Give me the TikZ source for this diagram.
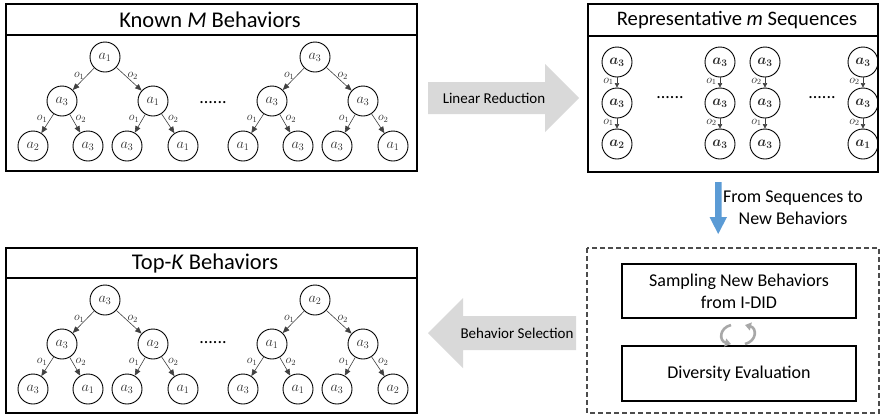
\documentclass[tikz,border=0pt]{standalone}
\usepackage{fontspec}
\setmainfont{Carlito}
\usetikzlibrary{arrows.meta}
\definecolor{edgec}{HTML}{404040}
\definecolor{blockgray}{HTML}{D9D9D9}
\definecolor{bluearrow}{HTML}{5B9BD5}
\definecolor{cycgray}{HTML}{A8A8A8}
\definecolor{labc}{HTML}{303030}
\tikzset{
  box/.style={draw=black, line width=1.3pt},
  dbox/.style={draw=black!70, line width=1.3pt, dash pattern=on 5pt off 3pt},
  ibox/.style={draw=black, line width=1.2pt},
  st/.style={circle, draw=black, line width=0.9pt, minimum size=30pt, inner sep=0pt,
    font=\fontsize{14}{16}\selectfont, text=labc},
  sq/.style={st, font=\fontsize{14.5}{16}\selectfont\boldmath},
  ed/.style={draw=edgec, line width=0.6pt, -{Triangle[length=6.5pt,width=5.5pt]}},
  sed/.style={draw=edgec, line width=0.6pt, -{Triangle[length=4.5pt,width=4.5pt]}},
  ol/.style={font=\fontsize{12}{14}\selectfont, text=labc, inner sep=1pt},
  sol/.style={font=\fontsize{11.5}{13}\selectfont, text=labc, inner sep=1pt},
  ttl/.style={font=\fontsize{22.5}{26}\selectfont},
  ttlr/.style={font=\fontsize{20.6}{24}\selectfont},
  txt/.style={font=\fontsize{18}{22}\selectfont, align=center},
  atxt/.style={font=\fontsize{15}{18}\selectfont},
  dots/.style={font=\fontsize{18}{20}\selectfont},
  cyc/.style={draw=cycgray, line width=2.6pt, -{Triangle[length=6pt,width=8pt]}},
}
\newcommand\mytree[7]{%
  \node[st] (r)  at (0,0)    {$a_{#1}$};
  \node[st] (L)  at (-43,44) {$a_{#2}$};
  \node[st] (R)  at (48,44)  {$a_{#3}$};
  \node[st] (LL) at (-72,89) {$a_{#4}$};
  \node[st] (LR) at (-17,89) {$a_{#5}$};
  \node[st] (RL) at (22,89)  {$a_{#6}$};
  \node[st] (RR) at (78,89)  {$a_{#7}$};
  \draw[ed] (r) -- node[ol,pos=0.35,left=1pt]{$o_1$} (L);
  \draw[ed] (r) -- node[ol,pos=0.35,right=1pt]{$o_2$} (R);
  \draw[ed] (L) -- node[ol,pos=0.25,left=2pt]{$o_1$} (LL);
  \draw[ed] (L) -- node[ol,pos=0.25,right=2pt]{$o_2$} (LR);
  \draw[ed] (R) -- node[ol,pos=0.25,left=2pt]{$o_1$} (RL);
  \draw[ed] (R) -- node[ol,pos=0.25,right=2pt]{$o_2$} (RR);
}
\newcommand\myseq[5]{%
  \node[sq] (s1) at (0,0)  {$a_{#1}$};
  \node[sq] (s2) at (0,41) {$a_{#3}$};
  \node[sq] (s3) at (0,82) {$a_{#5}$};
  \draw[sed] (s1) -- node[sol,pos=0.4,left=2pt]{$o_{#2}$} (s2);
  \draw[sed] (s2) -- node[sol,pos=0.4,left=2pt]{$o_{#4}$} (s3);
}
\begin{document}
\begin{tikzpicture}[x=1pt,y=-1pt]
\useasboundingbox (0,0) rectangle (882,416);

% ---- top-left box
\draw[box] (6,4) rectangle (417,171);
\draw[box] (6,35) -- (417,35);
\node[ttl] (t1) at (210,19.5) {Known \textit{M} Behaviors};
\begin{scope}[shift={(105,57)}, name prefix=ta-]
  \mytree{1}{3}{1}{2}{3}{3}{1}
\end{scope}
\begin{scope}[shift={(315,57)}, name prefix=tb-]
  \mytree{3}{3}{3}{1}{3}{3}{1}
\end{scope}
\node[dots] (d1) at (213,103) {......};

% ---- bottom-left box
\draw[box] (6,248) rectangle (417,413);
\draw[box] (6,278) -- (417,278);
\node[ttl] (t2) at (205,263) {Top-\textit{K} Behaviors};
\begin{scope}[shift={(105,300)}, name prefix=ba-]
  \mytree{3}{3}{2}{3}{1}{3}{1}
\end{scope}
\begin{scope}[shift={(315,300)}, name prefix=bb-]
  \mytree{2}{1}{3}{3}{1}{3}{2}
\end{scope}
\node[dots] (d2) at (213,343) {......};

% ---- top-right box
\draw[box] (588,4) rectangle (878,172);
\draw[box] (588,36) -- (878,36);
\node[ttlr] (t3) at (737,20) {Representative \textit{m} Sequences};
\begin{scope}[shift={(617,62)}, name prefix=sa-]
  \myseq{3}{1}{3}{1}{2}
\end{scope}
\begin{scope}[shift={(720,62)}, name prefix=sb-]
  \myseq{3}{1}{3}{2}{3}
\end{scope}
\begin{scope}[shift={(765,62)}, name prefix=sc-]
  \myseq{3}{2}{3}{1}{3}
\end{scope}
\begin{scope}[shift={(863,62)}, name prefix=sd-]
  \myseq{3}{2}{3}{2}{1}
\end{scope}
\node[dots] (d3) at (670,98) {......};
\node[dots] (d4) at (822,98) {......};

% ---- block arrows
\fill[blockgray] (428,82) -- (545,82) -- (545,64) -- (579,98) -- (545,132) -- (545,114) -- (428,114) -- cycle;
\node[atxt] (lr) at (494,98) {Linear Reduction};
\fill[blockgray] (428,333) -- (463,298) -- (463,316) -- (576,316) -- (576,350) -- (463,350) -- (463,368) -- cycle;
\node[atxt] (bs) at (517,333) {Behavior Selection};

% ---- blue arrow
\fill[bluearrow] (715,182) -- (721.5,182) -- (721.5,217) -- (727,217) -- (718.2,234) -- (709.5,217) -- (715,217) -- cycle;
\node[txt] (fs) at (793,208) {From Sequences to\\New Behaviors};

% ---- dashed box
\draw[dbox] (587,248) rectangle (879,413);
\node[ibox, minimum width=234pt, minimum height=54pt, txt] (samp) at (739,291) {Sampling New Behaviors\\from I-DID};
\node[ibox, minimum width=234pt, minimum height=55pt, txt] (div) at (739,373.5) {Diversity Evaluation};
\coordinate (c1) at (731,325);
\coordinate (c2) at (731,344);
\coordinate (c3) at (745,344);
\coordinate (c4) at (745,325);
\draw[cyc] (c1) .. controls (719,328) and (719,341) .. (c2);
\draw[cyc] (c3) .. controls (757,341) and (757,328) .. (c4);
\end{tikzpicture}
\end{document}
